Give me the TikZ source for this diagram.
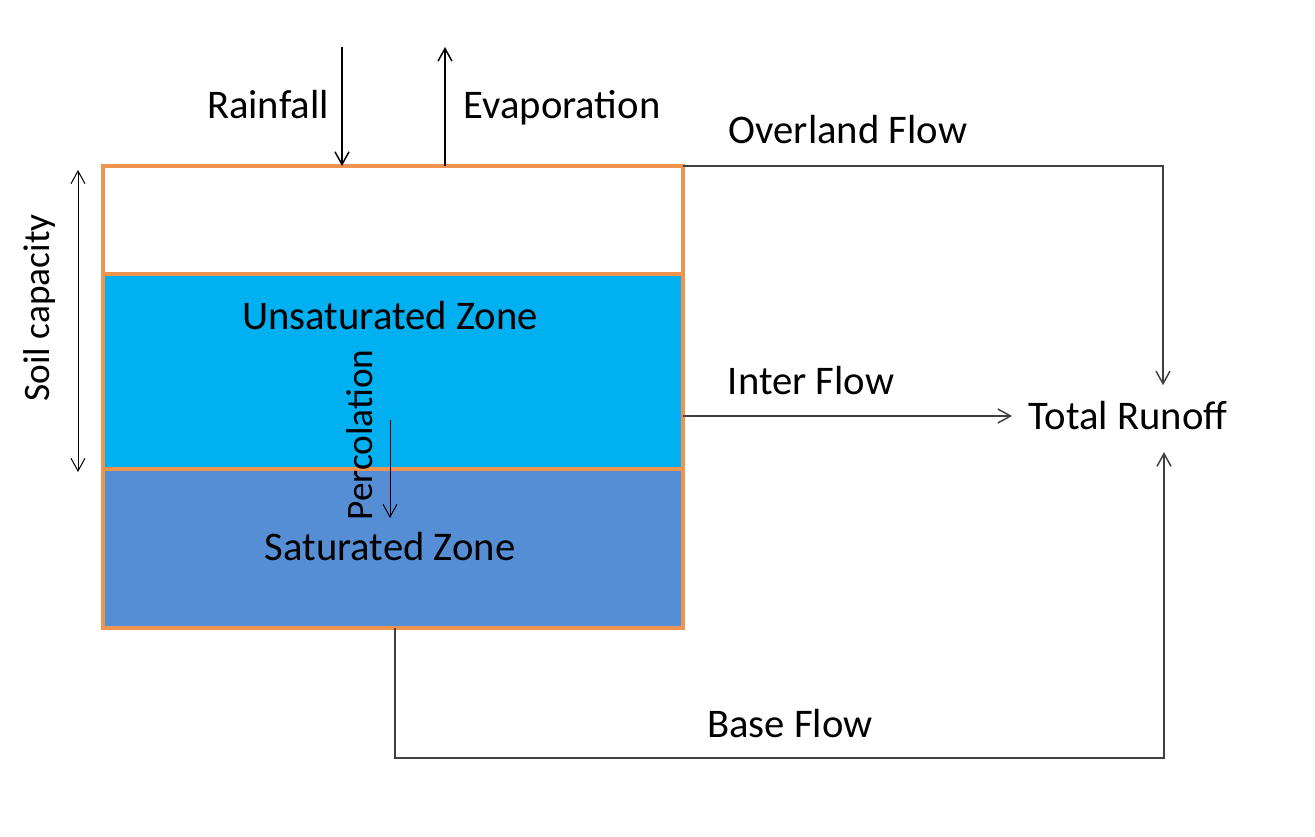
\documentclass[tikz,border=0pt]{standalone}
\usepackage{fontspec}
\setmainfont{Carlito}
\usetikzlibrary{arrows.meta}
\definecolor{zoneedge}{RGB}{238,148,78}
\definecolor{unsatblue}{RGB}{0,176,240}
\definecolor{satblue}{RGB}{85,142,213}
\definecolor{flowgray}{RGB}{64,64,64}
\tikzset{every picture/.style={line width=0.75pt}}
\tikzset{
  zone/.style={draw=zoneedge, line width=2.4pt, minimum width=435pt, inner sep=0pt, outer sep=0pt},
  flow/.style={draw=flowgray, line width=1.1pt, -{Straight Barb[length=9.5pt,width=10.5pt]}},
  thinflow/.style={line width=0.75pt, -{Straight Barb[length=9.5pt,width=10.5pt]}},
  lbl/.style={inner sep=0.75pt, font=\fontsize{30.5}{36}\selectfont},
  smlbl/.style={inner sep=0.75pt, font=\fontsize{28}{33}\selectfont}
}
\begin{document}
\begin{tikzpicture}[x=0.75pt,y=0.75pt,yscale=-1,xscale=1]
\useasboundingbox (0,0) rectangle (1315,837);

%Shape: Rectangle [soil layers]
\node [zone, fill=white, minimum height=81pt] (topz) at (393,220) {};
\node [zone, fill=unsatblue, minimum height=146.25pt] (unsat) at (393,371.5) {};
\node [zone, fill=satblue, minimum height=119.25pt] (sat) at (393,548.5) {};

% Text Node
\node [lbl, anchor=base] (unsatText) at (390,330) {Unsaturated Zone};
% Text Node
\node [lbl, anchor=base] (satText) at (390,561) {Saturated Zone};
% Text Node
\node [lbl, anchor=west, inner sep=12pt] (runoff) at (1012,416) {Total Runoff};

%Straight Lines [rainfall]
\coordinate (rainTop) at (342,47);
\draw [thinflow, line width=1.1pt] (rainTop) -- (rainTop |- topz.north);
%Straight Lines [evaporation]
\coordinate (evapTop) at (445,47);
\draw [thinflow, line width=1.1pt] (evapTop |- topz.north) -- (evapTop);

%Straight Lines [overland flow]
\coordinate (ovCorner) at (1163,166);
\draw [flow] (topz.north east) -- (ovCorner) -- (ovCorner |- runoff.north);
%Straight Lines [inter flow]
\draw [flow] (unsat.east |- runoff.west) -- (runoff.west);
%Straight Lines [base flow]
\coordinate (baseL) at (395,758);
\coordinate (baseR) at (1164,758);
\draw [flow, shorten >=4pt] (sat.south -| baseL) -- (baseL) -- (baseR) -- (baseR |- runoff.south);

%Straight Lines [soil capacity]
\coordinate (capTop) at (78,170);
\coordinate (capBot) at (78,472);
\draw [thinflow, {Straight Barb[length=9.5pt,width=10.5pt]}-{Straight Barb[length=9.5pt,width=10.5pt]}] (capTop) -- (capBot);
%Straight Lines [percolation]
\coordinate (percTop) at (390,420);
\coordinate (percBot) at (390,518);
\draw [thinflow] (percTop) -- (percBot);

% Text Node
\node [lbl, anchor=base] (rainText) at (268,119) {Rainfall};
% Text Node
\node [lbl, anchor=base] (evapText) at (562,119) {Evaporation};
% Text Node
\node [lbl, anchor=base] (overText) at (848,144) {Overland Flow};
% Text Node
\node [lbl, anchor=base] (interText) at (811,395) {Inter Flow};
% Text Node
\node [lbl, anchor=base] (baseText) at (790,738) {Base Flow};
% Text Node
\node [smlbl, rotate=90] (capText) at (40,308) {Soil capacity};
% Text Node
\node [smlbl, rotate=90] (percText) at (360,435) {Percolation};

\end{tikzpicture}
\end{document}
